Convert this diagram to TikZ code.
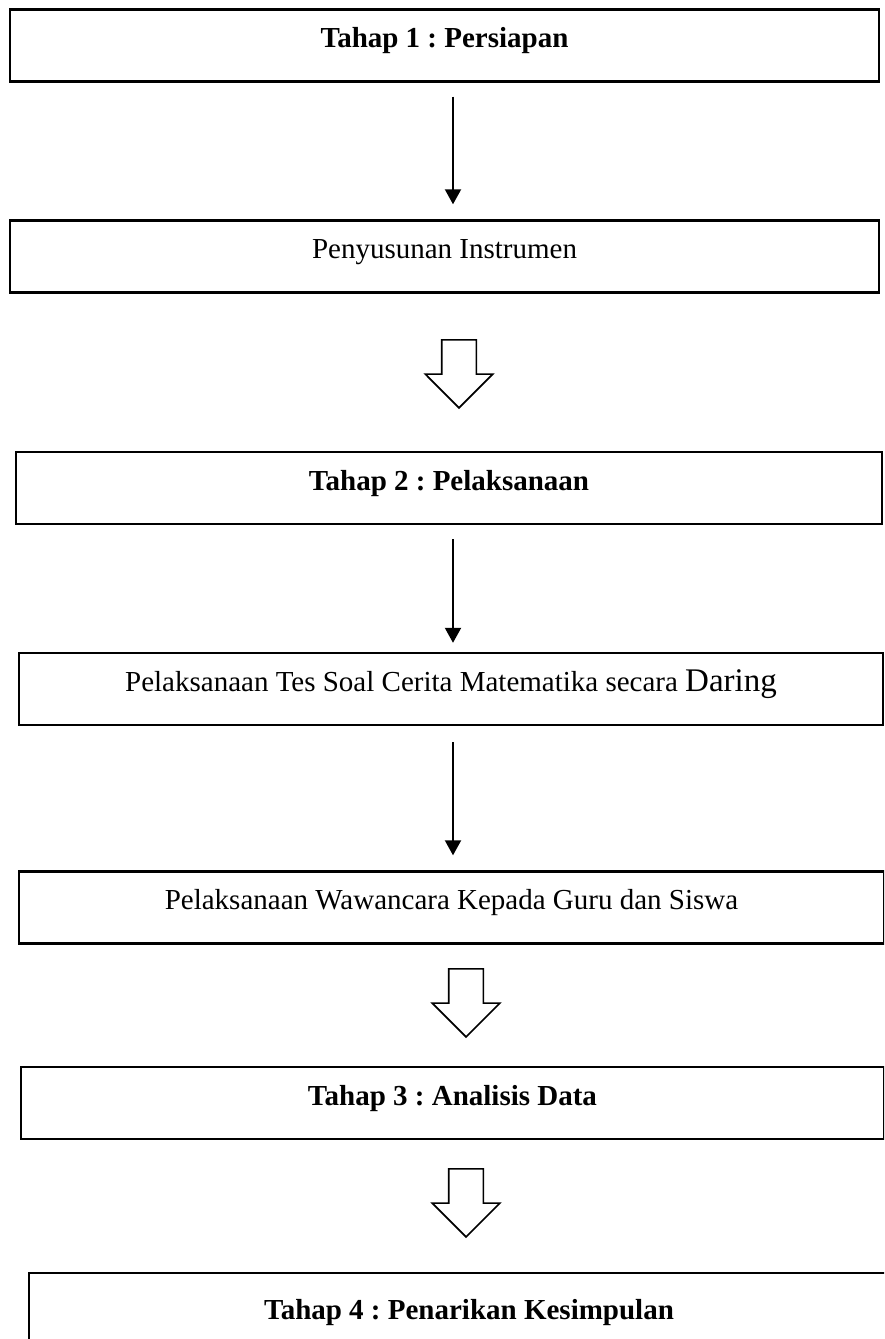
\documentclass[tikz,border=0pt]{standalone}
\usepackage{fontspec}
\setmainfont{Liberation Serif}
\usetikzlibrary{arrows.meta,shapes.arrows}
\frenchspacing

\begin{document}
\begin{tikzpicture}[x=0.5pt,y=-0.5pt,line cap=butt,line join=miter,
  stagebox/.style={draw,line width=1.2pt,inner sep=0pt,minimum height=36pt,text height=9.6pt,text depth=7.5pt,font=\fontsize{14.5}{17}\selectfont},
  thinarr/.style={-{Triangle[length=7.5pt,width=8pt]},line width=1pt,shorten <=7pt,shorten >=7.5pt},
  hollowarr/.style={single arrow,draw,line width=0.8pt,shape border rotate=270,inner sep=8.25pt,minimum height=34pt,single arrow head extend=8.25pt,anchor=tip}]
\useasboundingbox (0,0) rectangle (884,1339);
\clip (0,0) rectangle (884,1339);
\coordinate (ax) at (453,0);
\node[stagebox,minimum width=434.5pt,font=\fontsize{14.5}{17}\selectfont\bfseries] (b1) at (444.5,45.5) {Tahap 1 : Persiapan};
\node[stagebox,minimum width=434.5pt] (b2) at (444.5,256.5) {Penyusunan Instrumen};
\node[stagebox,minimum width=433pt,font=\fontsize{14.5}{17}\selectfont\bfseries] (b3) at (449,488) {Tahap 2 : Pelaksanaan};
\node[stagebox,minimum width=432pt] (b4) at (451,689) {Pelaksanaan Tes Soal Cerita Matematika secara {\fontsize{16.5}{19}\selectfont Daring}};
\node[stagebox,minimum width=432.5pt] (b5) at (451.5,907.5) {Pelaksanaan Wawancara Kepada Guru dan Siswa};
\node[stagebox,minimum width=431.5pt,font=\fontsize{14.5}{17}\selectfont\bfseries] (b6) at (452.5,1103) {Tahap 3 : Analisis Data};
\node[stagebox,minimum width=440pt,minimum height=44.5pt,font=\fontsize{14.5}{17}\selectfont\bfseries] (b7) at (469,1317.5) {Tahap 4 : Penarikan Kesimpulan};
\draw[thinarr] (b1.south -| ax) -- (b2.north -| ax);
\draw[thinarr,shorten >=4.5pt] (b3.south -| ax) -- (b4.north -| ax);
\draw[thinarr,shorten <=8pt] (b4.south -| ax) -- (b5.north -| ax);
\node[hollowarr] (h1) at (459,409) {};
\node[hollowarr] (h2) at (466,1038) {};
\node[hollowarr] (h3) at (466,1238) {};
\end{tikzpicture}
\end{document}
